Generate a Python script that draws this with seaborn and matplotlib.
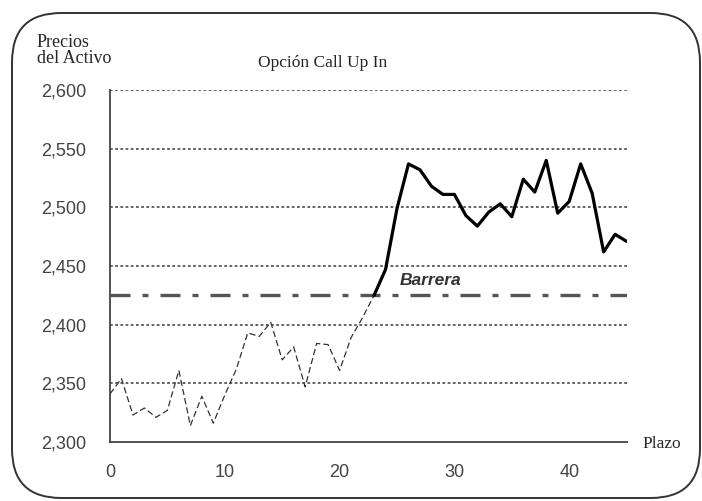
"""Opción Call Up In: trayectoria del precio del activo frente a la barrera."""

import matplotlib
matplotlib.use("Agg")
import matplotlib.pyplot as plt
import numpy as np
import pandas as pd
import seaborn as sns
from matplotlib.patches import FancyBboxPatch


# Datos
plazo_antes = list(range(0, 24))
precio_antes = [2341, 2354, 2323, 2329, 2321, 2327, 2361, 2314, 2339, 2316,
                2340, 2362, 2393, 2390, 2402, 2370, 2381, 2347, 2384, 2383,
                2361, 2389, 2406, 2425]
plazo_despues = list(range(23, 46))
precio_despues = [2425, 2447, 2499, 2537, 2532, 2518, 2511, 2511, 2493, 2484,
                  2496, 2503, 2492, 2524, 2513, 2540, 2495, 2505, 2537, 2512,
                  2462, 2477, 2471]
barrera = 2425
ticks_x = [0, 10, 20, 30, 40]
ticks_y = [2300, 2350, 2400, 2450, 2500, 2550, 2600]
etiquetas_y = ["2,300", "2,350", "2,400", "2,450", "2,500", "2,550", "2,600"]

sns.set_style("white")
plt.rcParams['font.family'] = ['Liberation Sans', 'DejaVu Sans']

fig = plt.figure(figsize=(7.02, 5.01), dpi=100)
ax = fig.add_axes([110 / 702, 59 / 501, 516.6 / 702, 352 / 501])

# rejilla punteada
for v in ticks_y[1:]:
    ax.axhline(v, color="#3a3a3a", lw=1.1, ls=(0, (1.8, 1.6)), zorder=1)

# barrera
ax.axhline(barrera, color="#555555", lw=2.4, ls=(0, (6, 3.6, 1.8, 3.6)), zorder=2)

antes = pd.DataFrame({"plazo": plazo_antes, "precio": precio_antes})
despues = pd.DataFrame({"plazo": plazo_despues, "precio": precio_despues})
sns.lineplot(data=antes, x="plazo", y="precio", ax=ax, color="#333333",
             lw=0.9, ls=(0, (5, 2.5)), zorder=3)
sns.lineplot(data=despues, x="plazo", y="precio", ax=ax, color="black",
             lw=2.3, zorder=4)

ax.text(25.2, 2437.5, "Barrera", fontsize=12.5, fontweight="bold",
        fontstyle="italic", color="#333333", va="center", ha="left")

ax.set_xlim(0, 45)
ax.set_ylim(2300, 2600)
ax.set_xticks(ticks_x)
ax.set_yticks(ticks_y)
ax.set_yticklabels(etiquetas_y)
ax.set_xlabel("")
ax.set_ylabel("")
ax.tick_params(axis="both", direction="out", length=5, width=1.2,
               color="#444444", labelcolor="#444444", labelsize=13)
ax.tick_params(axis="y", pad=12)
ax.tick_params(axis="x", pad=11)
sns.despine(ax=ax)
for side in ["left", "bottom"]:
    ax.spines[side].set_color("#444444")
    ax.spines[side].set_linewidth(1.3)

serif = ['Liberation Serif', 'DejaVu Serif']
fig.text(37 / 702, 1 - 34 / 501, "Precios\ndel Activo", family=serif,
         fontsize=13, va="top", ha="left", linespacing=0.95)
fig.text(258 / 702, 1 - 63 / 501, "Opción Call Up In", family=serif,
         fontsize=12.5, va="center", ha="left")
fig.text(642 / 702, 1 - 444 / 501, "Plazo", family=serif,
         fontsize=12.5, va="center", ha="left")

# marco redondeado
marco = FancyBboxPatch((12 / 702, 3 / 501), 688 / 702, 485 / 501,
                       boxstyle="round,pad=0,rounding_size=0.07",
                       mutation_aspect=702 / 501, transform=fig.transFigure,
                       fill=False, edgecolor="#333333", lw=1.4)
fig.patches.append(marco)

fig.savefig("out.png", dpi=100)
